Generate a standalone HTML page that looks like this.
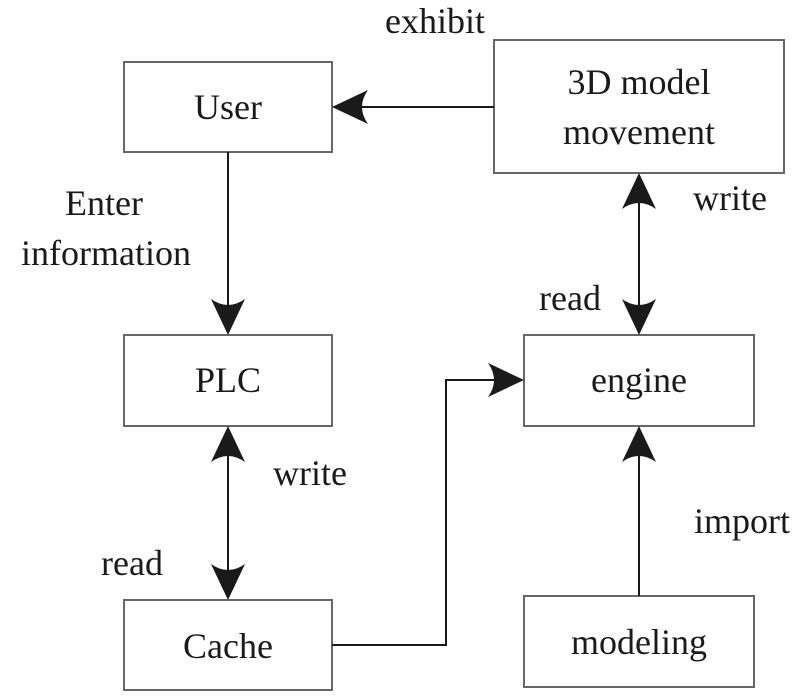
<!DOCTYPE html>
<html><head><style>html,body{margin:0;padding:0;background:#fff;}</style></head>
<body>
<svg width="800" height="692" viewBox="0 0 800 692" xmlns="http://www.w3.org/2000/svg" font-family="Liberation Serif, serif" font-size="36" fill="#1a1a1a">
<defs>
<path id="ah" d="M0,0 L-36,-17 Q-24,0 -36,17 Z" fill="#1a1a1a"/>
</defs>
<g fill="#fff" stroke="#666" stroke-width="2">
<rect x="124" y="62" width="208" height="90"/>
<rect x="494" y="40" width="290" height="133"/>
<rect x="124" y="335" width="208" height="91"/>
<rect x="524" y="335" width="230" height="91"/>
<rect x="124" y="600" width="208" height="90"/>
<rect x="524" y="596" width="230" height="91"/>
</g>
<g stroke="#1a1a1a" stroke-width="2" fill="none">
<line x1="494" y1="107" x2="345" y2="107"/>
<line x1="228" y1="152" x2="228" y2="320"/>
<line x1="639" y1="188" x2="639" y2="320"/>
<line x1="228" y1="440" x2="228" y2="585"/>
<line x1="639" y1="596" x2="639" y2="440"/>
<polyline points="332,645 446,645 446,380 510,380"/>
</g>
<use href="#ah" transform="translate(332,107) rotate(180)"/>
<use href="#ah" transform="translate(228,335) rotate(90)"/>
<use href="#ah" transform="translate(639,173) rotate(-90)"/>
<use href="#ah" transform="translate(639,335) rotate(90)"/>
<use href="#ah" transform="translate(228,426) rotate(-90)"/>
<use href="#ah" transform="translate(228,600) rotate(90)"/>
<use href="#ah" transform="translate(639,426) rotate(-90)"/>
<use href="#ah" transform="translate(524,380)"/>
<g text-anchor="middle">
<text x="228" y="119">User</text>
<text x="639" y="94">3D model</text>
<text x="639" y="144">movement</text>
<text x="228" y="392">PLC</text>
<text x="639" y="392">engine</text>
<text x="228" y="658">Cache</text>
<text x="639" y="654">modeling</text>
<text x="435" y="33">exhibit</text>
<text x="104" y="215">Enter</text>
<text x="106" y="265">information</text>
<text x="730" y="210">write</text>
<text x="570" y="310">read</text>
<text x="310" y="485">write</text>
<text x="132" y="575">read</text>
<text x="742" y="533">import</text>
</g>
</svg>
</body></html>
